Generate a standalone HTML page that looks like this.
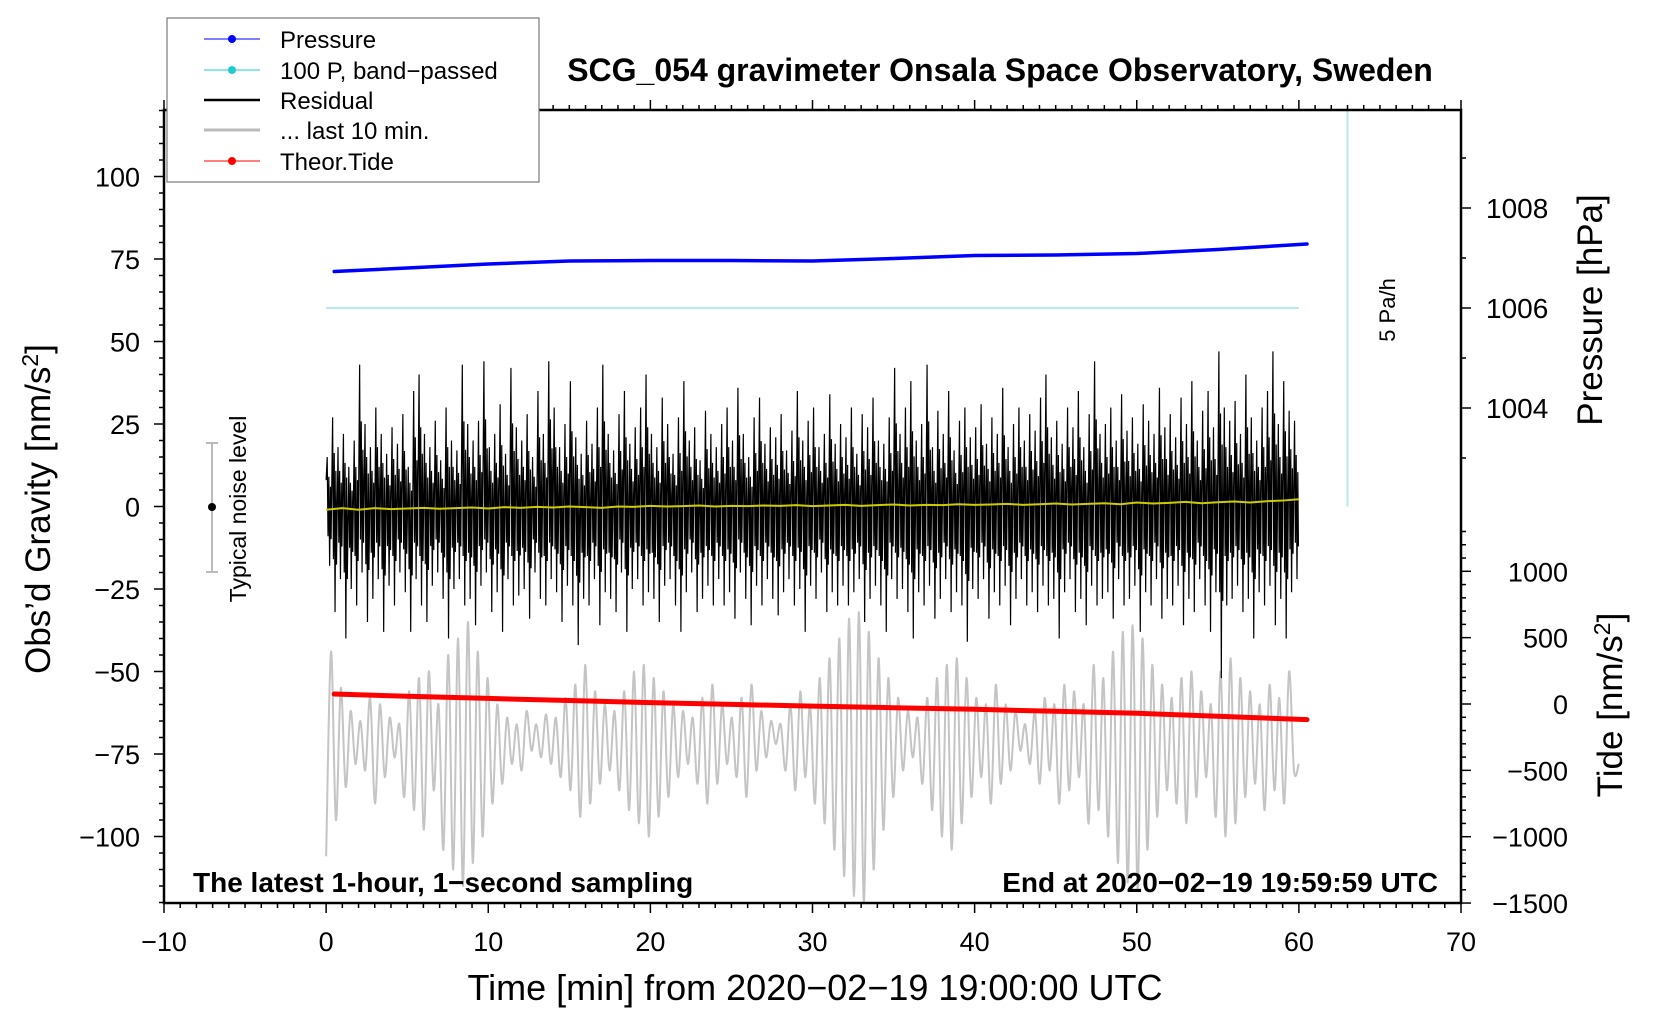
<!DOCTYPE html>
<html><head><meta charset="utf-8">
<style>
html,body{margin:0;padding:0;background:#fff;}
svg{display:block;font-family:"Liberation Sans",sans-serif;}
</style></head>
<body>
<svg id="chart" width="1660" height="1020" viewBox="0 0 1660 1020" xmlns="http://www.w3.org/2000/svg">
<rect x="0" y="0" width="1660" height="1020" fill="#fff"/>
<g id="marks"></g>
<g id="axes"></g>
<text x="1000" y="81" font-size="32" font-weight="bold" text-anchor="middle">SCG_054 gravimeter Onsala Space Observatory, Sweden</text>
<text transform="translate(50,509) rotate(-90)" font-size="35" text-anchor="middle">Obs’d Gravity [nm/s<tspan font-size="23" dy="-12">2</tspan><tspan dy="12">]</tspan></text>
<text transform="translate(1602,310) rotate(-90)" font-size="35" text-anchor="middle">Pressure [hPa]</text>
<text transform="translate(1622,705) rotate(-90)" font-size="35" text-anchor="middle">Tide [nm/s<tspan font-size="23" dy="-12">2</tspan><tspan dy="12">]</tspan></text>
<text x="815" y="1000" font-size="36" text-anchor="middle">Time [min] from 2020−02−19 19:00:00 UTC</text>
<text x="193" y="892" font-size="28" font-weight="bold">The latest 1-hour, 1−second sampling</text>
<text x="1438" y="892" font-size="28" font-weight="bold" text-anchor="end">End at 2020−02−19 19:59:59 UTC</text>
<text transform="translate(1395,310) rotate(-90)" font-size="22" text-anchor="middle">5 Pa/h</text>
<g>
<line x1="212" y1="443" x2="212" y2="572" stroke="#bbb" stroke-width="2"/>
<line x1="206" y1="443" x2="218" y2="443" stroke="#bbb" stroke-width="2"/>
<line x1="206" y1="572" x2="218" y2="572" stroke="#bbb" stroke-width="2"/>
<circle cx="212" cy="507" r="4" fill="#000"/>
<text transform="translate(246,509) rotate(-90)" font-size="23" text-anchor="middle">Typical noise level</text>
</g>
<g>
<rect x="167" y="18" width="372" height="164" fill="#fff" stroke="#777" stroke-width="1.2"/>
<g><line x1="204" y1="39" x2="260" y2="39" stroke="#00f" stroke-width="1"/><circle cx="232" cy="39" r="4" fill="#00f"/><text x="280" y="48" font-size="24">Pressure</text></g>
<g><line x1="204" y1="70" x2="260" y2="70" stroke="#2cc" stroke-width="1"/><circle cx="232" cy="70" r="4" fill="#2cc"/><text x="280" y="79" font-size="24">100 P, band−passed</text></g>
<g><line x1="204" y1="100" x2="260" y2="100" stroke="#000" stroke-width="2.5"/><text x="280" y="109" font-size="24">Residual</text></g>
<g><line x1="204" y1="130" x2="260" y2="130" stroke="#bbb" stroke-width="3"/><text x="280" y="139" font-size="24">... last 10 min.</text></g>
<g><line x1="204" y1="161" x2="260" y2="161" stroke="#f00" stroke-width="1"/><circle cx="232" cy="161" r="4" fill="#f00"/><text x="280" y="170" font-size="24">Theor.Tide</text></g>
</g>
</svg>
<script>
// ---- data ----
const resHigh=[15,27,18,22,12,20,43,25,18,30,22,16,24,19,28,12,35,40,22,18,26,14,30,20,17,43,25,20,26,44,18,22,31,16,42,24,20,28,15,35,22,44,30,18,25,38,21,16,26,19,30,43,22,17,28,35,19,24,30,40,22,18,33,25,16,27,38,20,24,14,29,22,18,25,30,20,36,22,15,27,33,19,24,21,28,17,23,35,20,26,30,18,22,34,19,25,21,30,16,28,24,33,20,19,27,42,22,30,38,20,25,43,18,29,22,35,17,26,30,21,24,31,19,27,22,36,18,25,30,20,28,23,33,40,21,26,19,30,24,35,18,28,44,22,25,30,20,34,23,27,19,31,26,22,36,24,28,21,33,25,38,20,29,35,24,47,30,26,32,22,40,27,20,30,35,47,25,38,29,26];
const resLow=[-18,-32,-22,-40,-25,-30,-20,-35,-28,-22,-38,-24,-30,-20,-26,-38,-22,-30,-35,-24,-20,-28,-40,-25,-22,-30,-28,-36,-24,-20,-32,-26,-38,-22,-30,-27,-25,-34,-20,-28,-30,-22,-26,-35,-24,-30,-42,-28,-30,-22,-36,-26,-28,-32,-20,-38,-25,-22,-30,-26,-28,-35,-24,-22,-30,-38,-26,-20,-32,-28,-24,-30,-22,-30,-26,-34,-20,-28,-36,-24,-30,-22,-28,-33,-26,-22,-30,-25,-38,-24,-28,-20,-32,-26,-30,-24,-30,-26,-22,-35,-28,-24,-30,-38,-22,-28,-25,-32,-40,-26,-30,-24,-34,-28,-22,-32,-26,-30,-41,-25,-28,-22,-34,-26,-30,-24,-36,-28,-22,-30,-26,-32,-24,-30,-28,-40,-26,-22,-32,-28,-36,-24,-30,-28,-26,-34,-22,-30,-28,-24,-38,-26,-30,-22,-34,-28,-30,-24,-36,-28,-32,-22,-30,-38,-26,-52,-30,-28,-24,-32,-28,-40,-26,-30,-24,-36,-28,-40,-26,-22];
const lastTen=[-106,-44,-95,-55,-85,-62,-78,-65,-80,-58,-90,-60,-82,-64,-76,-66,-88,-56,-92,-52,-98,-50,-86,-60,-104,-45,-110,-40,-115,-35,-108,-44,-100,-52,-90,-60,-84,-64,-78,-66,-80,-62,-74,-66,-76,-63,-78,-64,-82,-58,-86,-54,-94,-48,-90,-56,-84,-60,-80,-62,-86,-56,-92,-50,-96,-48,-100,-52,-94,-56,-88,-60,-82,-62,-78,-64,-84,-58,-90,-54,-84,-60,-78,-64,-82,-58,-88,-54,-80,-62,-76,-65,-72,-66,-80,-60,-86,-56,-82,-60,-90,-52,-96,-46,-104,-40,-112,-34,-118,-32,-120,-38,-110,-46,-98,-52,-88,-58,-80,-62,-76,-64,-84,-58,-92,-52,-100,-48,-104,-46,-96,-52,-88,-58,-82,-60,-90,-54,-84,-60,-80,-62,-74,-66,-78,-62,-84,-58,-80,-60,-90,-54,-86,-56,-82,-60,-96,-48,-92,-52,-100,-44,-108,-38,-114,-36,-116,-40,-104,-48,-94,-54,-86,-58,-90,-52,-96,-50,-88,-56,-82,-60,-94,-50,-100,-46,-96,-52,-88,-56,-84,-60,-92,-54,-86,-58,-90,-50,-80,-78];
const smoothRes=[-1,-0.5,-1,-0.5,-0.8,-0.6,-0.4,-0.7,-0.5,-0.3,-0.6,-0.2,-0.4,-0.1,-0.3,0,-0.2,-0.4,0,-0.1,0.2,0,0.1,0.3,0,0.2,0.1,0.3,0.2,0.4,0.1,0.3,0.5,0.2,0.4,0.6,0.3,0.5,0.4,0.7,0.5,0.6,0.8,0.5,0.7,0.9,0.6,0.8,1,0.7,1.2,0.9,1.1,1.4,1.0,1.3,1.5,1.2,1.6,1.8,2.2];
const pressureMin=[0.5,5,10,15,20,25,30,35,40,45,50,55,60.5];
const pressureHpa=[1006.73,1006.80,1006.88,1006.94,1006.95,1006.95,1006.94,1006.99,1007.05,1007.06,1007.09,1007.17,1007.28];
const bandPassed=[1006,1006];
const tideMin=[0.5,5,10,15,20,25,30,35,40,45,50,55,60.5];
const tideVal=[75,58,42,26,10,-3,-16,-28,-40,-55,-70,-92,-118];
const xTicks=[-10,0,10,20,30,40,50,60,70];
const yTicks=[-100,-75,-50,-25,0,25,50,75,100];
const pTicks=[1004,1006,1008];
const tTicks=[-1500,-1000,-500,0,500,1000];

// ---- scales ----
const L=164,R=1461,T=110,B=903;
const X=t=>L+(t+10)/80*(R-L);
const Y=v=>506.5-v*3.3;
const YP=p=>408-(p-1004)*50;
const YT=v=>704-v*0.1327;
const NS="http://www.w3.org/2000/svg";
const marks=document.getElementById('marks'), axes=document.getElementById('axes');
function mk(tag,attrs,parent){const e=document.createElementNS(NS,tag);for(const k in attrs)e.setAttribute(k,attrs[k]);parent.appendChild(e);return e;}

// last 10 min (gray)
{let n=lastTen.length,pts=lastTen.map((v,i)=>[X(i*60/(n-1)),Y(v)]);
let d='M'+pts[0][0]+','+pts[0][1];
for(let i=0;i<n-1;i++){const p0=pts[Math.max(0,i-1)],p1=pts[i],p2=pts[i+1],p3=pts[Math.min(n-1,i+2)];
d+=` C${p1[0]+(p2[0]-p0[0])/6},${p1[1]+(p2[1]-p0[1])/6} ${p2[0]-(p3[0]-p1[0])/6},${p2[1]-(p3[1]-p1[1])/6} ${p2[0]},${p2[1]}`;}
const e=mk('path',{d:d,fill:'none',stroke:'#c4c4c4','stroke-width':2},marks);

}
// band passed
{const e=mk('line',{x1:X(0),x2:X(60),y1:YP(bandPassed[0]),y2:YP(bandPassed[1]),stroke:'#b8e8e8','stroke-width':2},marks);


const v=mk('line',{x1:X(63),x2:X(63),y1:T,y2:Y(0),stroke:'#b8e8e8','stroke-width':2},marks);

}
// residual
{let pts=[];const n=resHigh.length,dt=60/n;
pts.push([X(0),Y(8)]);
for(let i=0;i<n;i++){pts.push([X(i*dt+dt*0.2),Y(resHigh[i])]);pts.push([X(i*dt+dt*0.35),Y(resLow[i]*0.5)]);pts.push([X(i*dt+dt*0.5),Y(resHigh[i]*0.6)]);pts.push([X(i*dt+dt*0.65),Y(resLow[i])]);pts.push([X(i*dt+dt*0.8),Y(resHigh[i]*0.4)]);pts.push([X(i*dt+dt*0.92),Y(resLow[i]*0.55)]);}
const e=mk('polyline',{points:pts.map(p=>p.join(',')).join(' '),fill:'none',stroke:'#000','stroke-width':1.2},marks);

}
// smoothed residual
{const n=smoothRes.length;const pts=smoothRes.map((v,i)=>X(i*60/(n-1))+','+Y(v));
const e=mk('polyline',{points:pts.join(' '),fill:'none',stroke:'#cc0','stroke-width':2},marks);

}
// pressure
{const pts=pressureMin.map((t,i)=>X(t)+','+YP(pressureHpa[i]));
const e=mk('polyline',{points:pts.join(' '),fill:'none',stroke:'#00f','stroke-width':3.5,'stroke-linecap':'round'},marks);

}
// tide
{const pts=tideMin.map((t,i)=>X(t)+','+YT(tideVal[i]));
const e=mk('polyline',{points:pts.join(' '),fill:'none',stroke:'#f00','stroke-width':5,'stroke-linecap':'round'},marks);

}

// ---- axes ----
{const f=mk('rect',{x:L,y:T,width:R-L,height:B-T,fill:'none',stroke:'#000','stroke-width':2.5},axes);

}
for(let t=-10;t<=70;t++){const maj=t%10===0,len=maj?10:5;
mk('line',{x1:X(t),x2:X(t),y1:B,y2:B+len,stroke:'#000','stroke-width':1.5},axes);
mk('line',{x1:X(t),x2:X(t),y1:T,y2:T-len,stroke:'#000','stroke-width':1.5},axes);}
xTicks.forEach(t=>{const e=mk('text',{x:X(t),y:951,'font-size':27,'text-anchor':'middle'},axes);e.textContent=(t<0?'−':'')+Math.abs(t);

});
for(let v=-120;v<=120;v+=5){const maj=v%25===0;mk('line',{x1:L,x2:L-(maj?10:5),y1:Y(v),y2:Y(v),stroke:'#000','stroke-width':1.5},axes);}
yTicks.forEach(v=>{const e=mk('text',{x:140,y:Y(v)+10,'font-size':27,'text-anchor':'end'},axes);e.textContent=(v<0?'−':'')+Math.abs(v);

});
for(let p=1003;p<=1009;p++){mk('line',{x1:R,x2:R+(p%2===0?10:5),y1:YP(p),y2:YP(p),stroke:'#000','stroke-width':1.5},axes);}
pTicks.forEach(p=>{const e=mk('text',{x:1486,y:YP(p)+10,'font-size':28},axes);e.textContent=p;

});
for(let v=-1500;v<=1300;v+=100){mk('line',{x1:R,x2:R+(v%500===0?10:5),y1:YT(v),y2:YT(v),stroke:'#000','stroke-width':1.5},axes);}
tTicks.forEach(v=>{const e=mk('text',{x:1568,y:YT(v)+10,'font-size':27,'text-anchor':'end'},axes);e.textContent=(v<0?'−':'')+Math.abs(v);

});
</script>
</body></html>
